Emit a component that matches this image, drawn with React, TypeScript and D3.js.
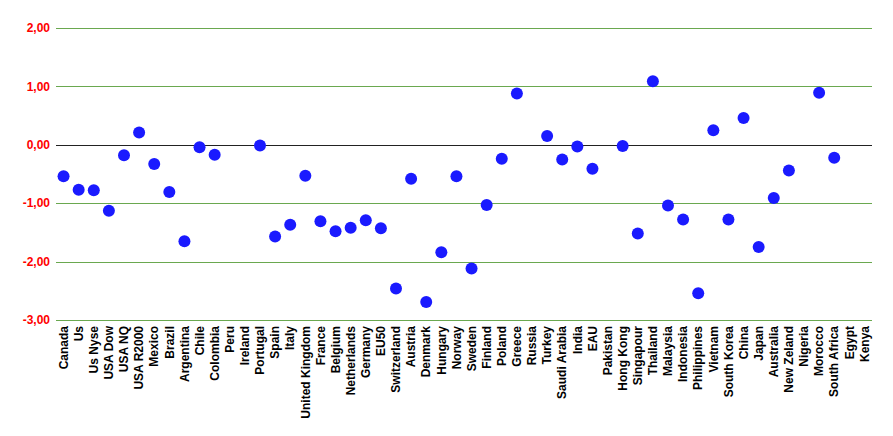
import React from 'react';
import * as d3 from 'd3';

const countries = [
  'Canada', 'Us', 'Us Nyse', 'USA Dow', 'USA NQ', 'USA R2000', 'Mexico', 'Brazil', 'Argentina', 'Chile',
  'Colombia', 'Peru', 'Ireland', 'Portugal', 'Spain', 'Italy', 'United Kingdom', 'France', 'Belgium',
  'Netherlands', 'Germany', 'EU50', 'Switzerland', 'Austria', 'Denmark', 'Hungary', 'Norway', 'Sweden',
  'Finland', 'Poland', 'Greece', 'Russia', 'Turkey', 'Saudi Arabia', 'India', 'EAU', 'Pakistan',
  'Hong Kong', 'Singapour', 'Thailand', 'Malaysia', 'Indonesia', 'Philippines', 'Vietnam', 'South Korea',
  'China', 'Japan', 'Australia', 'New Zeland', 'Nigeria', 'Morocco', 'South Africa', 'Egypt', 'Kenya',
];

// null = no value shown
const values: (number | null)[] = [
  -0.54, -0.77, -0.78, -1.13, -0.18, 0.21, -0.33, -0.81, -1.65, -0.04,
  -0.17, null, null, -0.01, -1.57, -1.37, -0.53, -1.31, -1.48,
  -1.42, -1.29, -1.43, -2.46, -0.58, -2.69, -1.84, -0.54, -2.12,
  -1.03, -0.24, 0.88, null, 0.15, -0.25, -0.03, -0.41, null,
  -0.02, -1.52, 1.09, -1.04, -1.28, -2.54, 0.25, -1.28,
  0.46, -1.75, -0.91, -0.44, null, 0.89, -0.22, null, null,
];

const yTicks = [2, 1, 0, -1, -2, -3];

const W = 893;
const H = 436;
const margin = { top: 28, right: 21, bottom: 116, left: 56 };

const fmt = (v: number) => v.toFixed(2).replace('.', ',');

const App = () => {
  const x = d3.scaleBand<string>()
    .domain(countries)
    .range([margin.left, W - margin.right]);

  const y = d3.scaleLinear()
    .domain([-3, 2])
    .range([H - margin.bottom, margin.top]);

  const font = 'Arial, "Liberation Sans", sans-serif';

  return (
    <svg width={W} height={H} style={{ position: 'absolute', left: 0, top: 0, background: '#fff' }}>
      {/* gridlines */}
      {yTicks.map(t => (
        <g key={t}>
          <line
            x1={margin.left}
            x2={W - margin.right}
            y1={Math.round(y(t)) + 0.5}
            y2={Math.round(y(t)) + 0.5}
            stroke={t === 0 ? '#222' : '#6aa84f'}
            strokeWidth={1}
          />
          <text
            x={margin.left - 6}
            y={y(t)}
            dy="0.35em"
            textAnchor="end"
            fill="#ff0000"
            fontFamily={font}
            fontWeight="bold"
            fontSize={12}
          >
            {fmt(t)}
          </text>
        </g>
      ))}

      {/* points */}
      {countries.map((c, i) => values[i] === null ? null : (
        <circle
          key={c}
          cx={x(c)! + x.bandwidth() / 2}
          cy={y(values[i] as number)}
          r={6}
          fill="#1a1aff"
        />
      ))}

      {/* category labels */}
      {countries.map(c => {
        const cx = x(c)! + x.bandwidth() / 2;
        const ty = H - margin.bottom + 6;
        return (
          <text
            key={c}
            transform={`translate(${cx},${ty}) rotate(-90)`}
            dy="0.35em"
            textAnchor="end"
            fill="#000"
            fontFamily={font}
            fontWeight="bold"
            fontSize={12}
          >
            {c}
          </text>
        );
      })}
    </svg>
  );
};

export default App;
